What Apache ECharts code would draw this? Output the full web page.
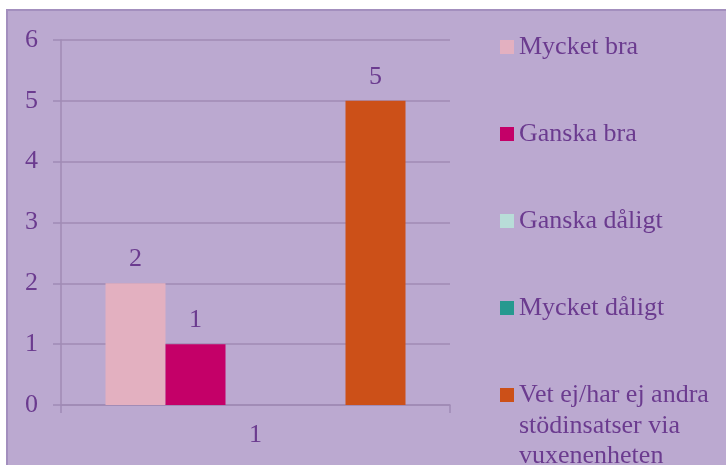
<!DOCTYPE html>
<html>
<head>
<meta charset="utf-8">
<style>
  html, body { margin: 0; padding: 0; background: #fff; }
  #chart { width: 726px; height: 465px; }
</style>
<script src="https://cdn.jsdelivr.net/npm/echarts@6/dist/echarts.min.js"></script>
</head>
<body>
<div id="chart"></div>
<script>
// data
const categories = ['1'];
const mycketBra = [2];
const ganskaBra = [1];
const ganskaDaligt = [0];
const mycketDaligt = [0];
const vetEj = [5];
const yTicks = [0, 1, 2, 3, 4, 5, 6];

const names = ['Mycket bra', 'Ganska bra', 'Ganska dåligt', 'Mycket dåligt', 'Vet ej/har ej andra'];
const colors = ['#E3B0C0', '#C40068', '#B8DDD8', '#26998F', '#CC5018'];
const values = [mycketBra, ganskaBra, ganskaDaligt, mycketDaligt, vetEj];

const font = "'Liberation Serif', 'Times New Roman', serif";
const textColor = '#6B3B8F';
const lineColor = '#A08BB5';

let chart = echarts.init(document.getElementById('chart'));

let option = {
  backgroundColor: '#ffffff',
  animation: false,
  graphic: [
    {
      type: 'rect',
      z: -10,
      shape: { x: 7, y: 10, width: 740, height: 480 },
      style: { fill: '#BBA9D0', stroke: '#A38FBE', lineWidth: 2 },
    },
    {
      // continuation of the last legend entry
      type: 'text',
      left: 519,
      top: 411,
      style: {
        text: 'stödinsatser via\nvuxenenheten',
        font: '26px ' + font,
        fill: textColor,
        lineHeight: 30,
      },
    },
  ],
  grid: {
    left: 61,
    right: 276,
    top: 40,
    bottom: 60,
  },
  legend: {
    orient: 'vertical',
    left: 495,
    top: 27,
    icon: 'rect',
    itemWidth: 14,
    itemHeight: 14,
    itemGap: 57,
    textStyle: {
      fontFamily: font,
      fontSize: 26,
      color: textColor,
      lineHeight: 30,
    },
    data: names,
  },
  xAxis: {
    type: 'category',
    data: categories,
    axisLine: { lineStyle: { color: lineColor, width: 1.5 } },
    axisTick: { show: true, length: 8, lineStyle: { color: lineColor, width: 1.5 } },
    axisLabel: {
      fontFamily: font,
      fontSize: 26,
      color: textColor,
      margin: 17,
    },
  },
  yAxis: {
    type: 'value',
    min: yTicks[0],
    max: yTicks[yTicks.length - 1],
    interval: 1,
    axisLine: { show: true, lineStyle: { color: lineColor, width: 1.5 } },
    axisTick: { show: true, length: 8, lineStyle: { color: lineColor, width: 1.5 } },
    splitLine: { show: true, lineStyle: { color: lineColor, width: 1.5 } },
    axisLabel: {
      fontFamily: font,
      fontSize: 26,
      color: textColor,
      margin: 23,
    },
  },
  series: names.map(function (name, i) {
    return {
      name: name,
      type: 'bar',
      data: values[i],
      barWidth: 60,
      barGap: 0,
      itemStyle: { color: colors[i] },
      label: {
        show: true,
        position: 'top',
        distance: 11,
        fontFamily: font,
        fontSize: 26,
        color: textColor,
        formatter: function (p) {
          return p.value === 0 ? '' : String(p.value);
        },
      },
    };
  }),
};

chart.setOption(option);
window.addEventListener('resize', () => {
  chart.resize();
});
</script>
</body>
</html>
